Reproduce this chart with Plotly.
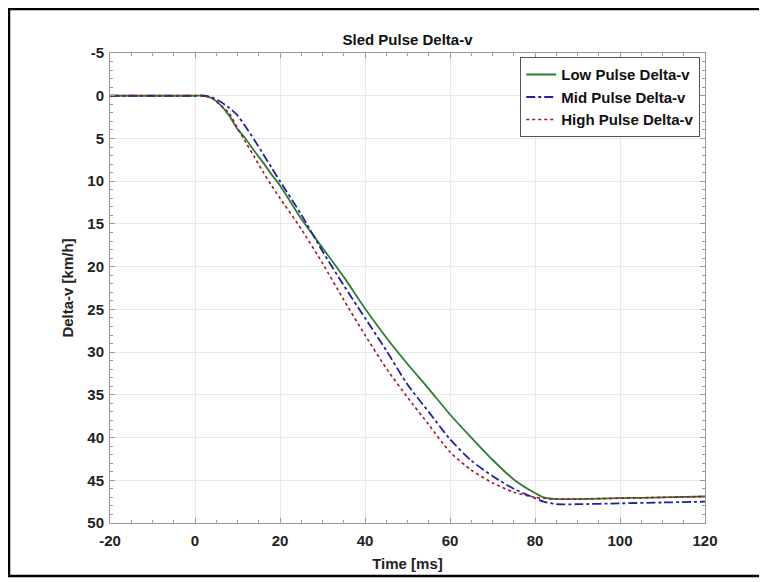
import plotly.graph_objects as go

# time axis [ms]
time_ms = [-20, 0, 2, 4, 6, 8, 10, 12, 14, 16, 18, 20, 25, 30, 35, 40, 45, 50,
           55, 60, 65, 70, 75, 80, 82, 85, 90, 100, 110, 120]

# delta-v [km/h]
low_dv = [0, 0, 0, 0.3, 1.1, 2.3, 3.9, 5.1, 6.5, 7.8, 9.2, 10.5, 14.4, 17.8,
          21.2, 24.9, 28.3, 31.4, 34.3, 37.3, 40.0, 42.6, 44.9, 46.5, 47.0,
          47.2, 47.2, 47.1, 47.0, 46.9]
mid_dv = [0, 0, 0, 0.2, 0.7, 1.4, 2.3, 3.7, 5.2, 6.8, 8.4, 10.0, 13.9, 18.2,
          22.2, 26.0, 29.8, 33.8, 37.0, 40.2, 42.7, 44.5, 46.0, 47.1, 47.5,
          47.8, 47.8, 47.7, 47.6, 47.5]
high_dv = [0, 0, 0, 0.3, 1.1, 2.0, 3.8, 5.5, 7.2, 8.9, 10.5, 12.0, 15.6, 19.6,
           23.9, 28.0, 31.9, 35.3, 38.5, 41.7, 43.8, 45.3, 46.4, 47.0, 47.1,
           47.2, 47.2, 47.1, 47.0, 46.9]

x_ticks = [-20, 0, 20, 40, 60, 80, 100, 120]
x_labels = ["-20", "0", "20", "40", "60", "80", "100", "120"]
y_ticks = [-5, 0, 5, 10, 15, 20, 25, 30, 35, 40, 45, 50]
y_labels = ["-5", "0", "5", "10", "15", "20", "25", "30", "35", "40", "45", "50"]

FONT = "Liberation Sans"
AXC = "#9a9a9a"

# page body has an 8px margin, so the figure is drawn 8px in and a bit smaller
W, H = 759, 574
L, T = 102, 45
PW, PH = 595, 470

fig = go.Figure()
fig.add_trace(go.Scatter(x=time_ms, y=low_dv, mode="lines", name="Low Pulse Delta-v",
                         line=dict(color="#2e7d32", width=1.8, shape="spline", smoothing=0.6)))
fig.add_trace(go.Scatter(x=time_ms, y=mid_dv, mode="lines", name="Mid Pulse Delta-v",
                         line=dict(color="#1f1fa8", width=1.8, dash="dashdot", shape="spline", smoothing=0.6)))
fig.add_trace(go.Scatter(x=time_ms, y=high_dv, mode="lines", name="High Pulse Delta-v",
                         line=dict(color="#a2142f", width=1.6, dash="dot", shape="spline", smoothing=0.6)))

axis_common = dict(
    showline=True, linecolor=AXC, linewidth=1, mirror="ticks",
    ticks="inside", ticklen=5, tickcolor=AXC,
    showgrid=True, gridcolor="#e8e8e8", gridwidth=1, zeroline=False,
    tickfont=dict(family=FONT, size=15, color="#222", weight="bold"),
)

fig.update_xaxes(
    range=[-20, 120], tickmode="array", tickvals=x_ticks, ticktext=x_labels,
    minor=dict(dtick=5, ticks="inside", ticklen=3, tickcolor=AXC, showgrid=False),
    ticklabelstandoff=4,
    title=dict(text="Time [ms]", font=dict(family=FONT, size=15, color="#222", weight="bold"), standoff=10),
    **axis_common,
)
fig.update_yaxes(
    range=[50, -5], tickmode="array", tickvals=y_ticks, ticktext=y_labels,
    minor=dict(dtick=1, ticks="inside", ticklen=3, tickcolor=AXC, showgrid=False),
    ticklabelstandoff=2,
    title=dict(text="Delta-v [km/h]", font=dict(family=FONT, size=15, color="#222", weight="bold"), standoff=10),
    **axis_common,
)

fig.update_layout(
    width=W, height=H,
    margin=dict(l=L, r=W - L - PW, t=T, b=H - T - PH, autoexpand=False),
    paper_bgcolor="white", plot_bgcolor="white",
    title=dict(text="Sled Pulse Delta-v", x=0.5, xref="paper", xanchor="center",
               y=1 - 32 / H, yref="container", yanchor="middle",
               font=dict(family=FONT, size=15, color="#111", weight="bold")),
    legend=dict(x=0.992, y=0.991, xanchor="right", yanchor="top",
                bgcolor="white", bordercolor="#555", borderwidth=1,
                font=dict(family=FONT, size=15, color="#111", weight="bold"),
                tracegroupgap=0, itemwidth=30),
    showlegend=True,
    shapes=[dict(type="rect", xref="paper", yref="paper",
                 x0=(1 - L) / PW, x1=(753 - L) / PW,
                 y0=(T + PH - 568) / PH, y1=(T + PH - 1) / PH,
                 line=dict(color="black", width=2.5), layer="below")],
)

fig.write_html("out.html")
